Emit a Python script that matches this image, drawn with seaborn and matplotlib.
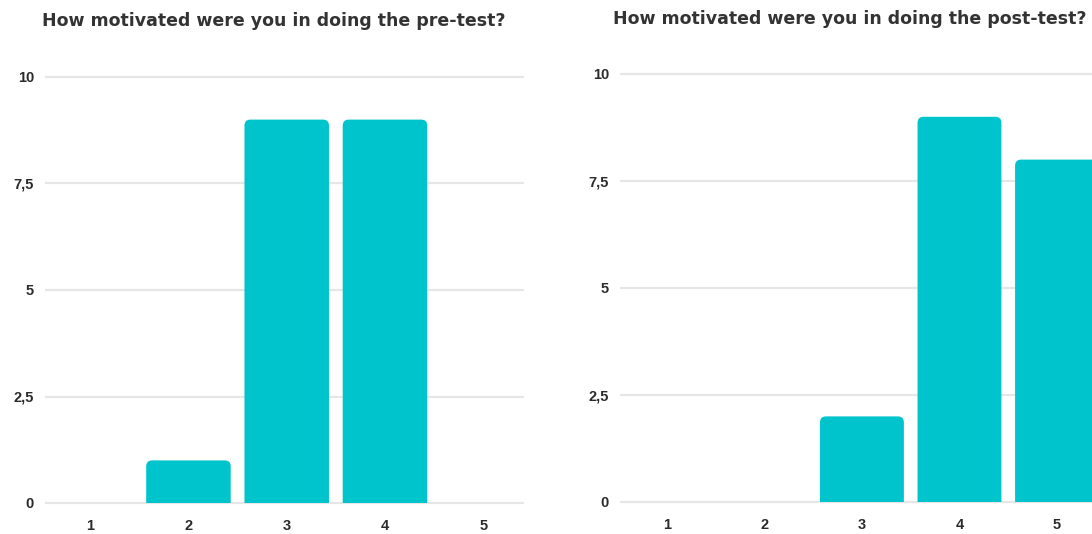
import numpy as np
import pandas as pd
import matplotlib
matplotlib.use("Agg")
import matplotlib.pyplot as plt
from matplotlib.path import Path
from matplotlib.patches import PathPatch
import seaborn as sns

# Responses on a 1-5 motivation scale
ratings = ["1", "2", "3", "4", "5"]
pre_counts = [0, 1, 9, 9, 0]
post_counts = [0, 0, 2, 9, 8]
y_ticks = [0, 2.5, 5, 7.5, 10]
y_tick_labels = ["0", "2,5", "5", "7,5", "10"]
titles = ["How motivated were you in doing the pre-test?",
          "How motivated were you in doing the post-test?"]

BAR_COLOR = "#00C4CC"
GRID_COLOR = "#E6E6E6"
TEXT_COLOR = "#2B2B2B"

sns.set_theme(style="white")
plt.rcParams["font.family"] = ["DejaVu Sans"]

W, H = 1092, 534
fig = plt.figure(figsize=(W / 100, H / 100), dpi=100)


def axes_from_pixels(x0, x1, y_zero, y_ten, xlim, ylim):
    """Create axes so that data (xlim, 0..10) land on the given pixel spans."""
    ppu = (y_zero - y_ten) / 10.0
    top_px = y_ten - (ylim[1] - 10) * ppu
    bot_px = y_zero + (0 - ylim[0]) * ppu
    ax = fig.add_axes([x0 / W, 1 - bot_px / H, (x1 - x0) / W, (bot_px - top_px) / H])
    ax.set_xlim(*xlim)
    ax.set_ylim(*ylim)
    return ax


def round_tops(ax, radius_px=6):
    """Replace each bar with a path that has rounded upper corners."""
    fig.canvas.draw()
    t = ax.transData
    x_ppu = abs(t.transform((1, 0))[0] - t.transform((0, 0))[0])
    y_ppu = abs(t.transform((0, 1))[1] - t.transform((0, 0))[1])
    for rect in list(ax.patches):
        x, y = rect.get_x(), rect.get_y()
        w, h = rect.get_width(), rect.get_height()
        if h <= 0:
            rect.remove()
            continue
        rx = min(radius_px / x_ppu, w / 2)
        ry = min(radius_px / y_ppu, h)
        verts = [
            (x, y), (x, y + h - ry),
            (x, y + h), (x + rx, y + h),
            (x + w - rx, y + h),
            (x + w, y + h), (x + w, y + h - ry),
            (x + w, y), (x, y),
        ]
        codes = [Path.MOVETO, Path.LINETO,
                 Path.CURVE3, Path.CURVE3,
                 Path.LINETO,
                 Path.CURVE3, Path.CURVE3,
                 Path.LINETO, Path.CLOSEPOLY]
        patch = PathPatch(Path(verts, codes), facecolor=BAR_COLOR,
                          edgecolor="none", zorder=3)
        rect.remove()
        ax.add_patch(patch)


def draw_panel(ax, counts):
    df = pd.DataFrame({"rating": ratings, "count": counts})
    sns.barplot(data=df, x="rating", y="count", color=BAR_COLOR,
                saturation=1, width=0.86, ax=ax, zorder=3)
    ax.set_xlabel("")
    ax.set_ylabel("")
    for s in ax.spines.values():
        s.set_visible(False)
    ax.set_yticks(y_ticks)
    ax.set_yticklabels(y_tick_labels)
    ax.yaxis.grid(True, color=GRID_COLOR, linewidth=1.6, zorder=0)
    ax.xaxis.grid(False)
    ax.set_axisbelow(True)
    ax.tick_params(axis="both", length=0, labelsize=10.5, colors=TEXT_COLOR)
    ax.tick_params(axis="x", pad=10)
    ax.tick_params(axis="y", pad=8)
    for lbl in ax.get_xticklabels() + ax.get_yticklabels():
        lbl.set_fontweight("bold")
        lbl.set_fontfamily(["Liberation Sans", "DejaVu Sans"])


ax1 = axes_from_pixels(45, 524, 503, 77, (-0.46, 4.415), (-0.04, 10.04))
ax2 = axes_from_pixels(620, 1098, 502, 74, (-0.48, 4.42), (-0.04, 10.04))
draw_panel(ax1, pre_counts)
draw_panel(ax2, post_counts)
ax1.set_xlim(-0.46, 4.415)
ax2.set_xlim(-0.48, 4.42)
round_tops(ax1)
round_tops(ax2)

fig.text(274 / W, 1 - 21 / H, titles[0], ha="center", va="center",
         fontsize=12.5, fontweight="bold", color="#333333")
fig.text(850 / W, 1 - 19 / H, titles[1], ha="center", va="center",
         fontsize=12.5, fontweight="bold", color="#333333")

fig.savefig("out.png", dpi=100, facecolor="white")
